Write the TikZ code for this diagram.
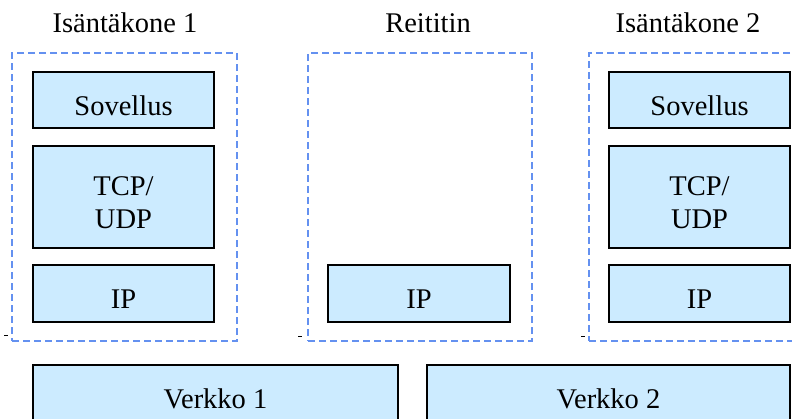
\documentclass[tikz,border=0pt]{standalone}
\usepackage{fontspec}
\setmainfont{Liberation Serif}
\definecolor{layerfill}{RGB}{204,235,255}
\definecolor{hostline}{RGB}{100,145,240}
\begin{document}
\begin{tikzpicture}[x=1pt,y=-1pt,
  lbl/.style={font=\fontsize{28.5}{33}\selectfont, align=center, inner sep=0pt, yshift=-5.5pt},
  layer/.style={draw=black, line width=2.4pt, fill=layerfill, inner sep=0pt,
    label={[lbl]center:#1}},
  host/.style={draw=hostline, line width=1.3pt, dash pattern=on 7pt off 4pt, inner sep=0pt},
  title/.style={font=\fontsize{28.5}{33}\selectfont, inner sep=0pt},
  tick/.style={line width=0.9pt}]
\useasboundingbox (0,0) rectangle (792,418);
\clip (0,0) rectangle (792,418);

% host and router outlines
\node[host, minimum width=225pt, minimum height=288pt] (host1) at (124.5,197) {};
\node[host, minimum width=224pt, minimum height=288pt] (router) at (420,197) {};
\node[host, minimum width=226pt, minimum height=288pt] (host2) at (702,197) {};

% titles
\node[title] (t1) at (125,23) {Isäntäkone 1};
\node[title] (tr) at (428,23) {Reititin};
\node[title] (t2) at (688,23) {Isäntäkone 2};

% host 1 stack
\node[layer={Sovellus}, minimum width=181pt, minimum height=56pt] (app1) at (123.5,100) {};
\node[layer={TCP/\\UDP}, minimum width=181pt, minimum height=102pt] (tcp1) at (123.5,197) {};
\node[layer={IP}, minimum width=181pt, minimum height=57pt] (ip1) at (123.5,293.5) {};

% router
\node[layer={IP}, minimum width=182pt, minimum height=57pt] (ipr) at (419,293.5) {};

% host 2 stack
\node[layer={Sovellus}, minimum width=181pt, minimum height=56pt] (app2) at (699.5,100) {};
\node[layer={TCP/\\UDP}, minimum width=181pt, minimum height=102pt] (tcp2) at (699.5,197) {};
\node[layer={IP}, minimum width=181pt, minimum height=57pt] (ip2) at (699.5,293.5) {};

% networks (run past the lower edge)
\node[layer={Verkko 1}, minimum width=365pt, minimum height=56pt] (net1) at (215.5,393) {};
\node[layer={Verkko 2}, minimum width=363pt, minimum height=56pt] (net2) at (608.5,393) {};

% small marks beside the outlines
\coordinate (m1a) at (4,335.5); \coordinate (m1b) at (7.5,335.5);
\coordinate (m2a) at (298,336); \coordinate (m2b) at (301.5,336);
\coordinate (m3a) at (581,336); \coordinate (m3b) at (584.5,336);
\draw[tick] (m1a) -- (m1b);
\draw[tick] (m2a) -- (m2b);
\draw[tick] (m3a) -- (m3b);
\end{tikzpicture}
\end{document}
